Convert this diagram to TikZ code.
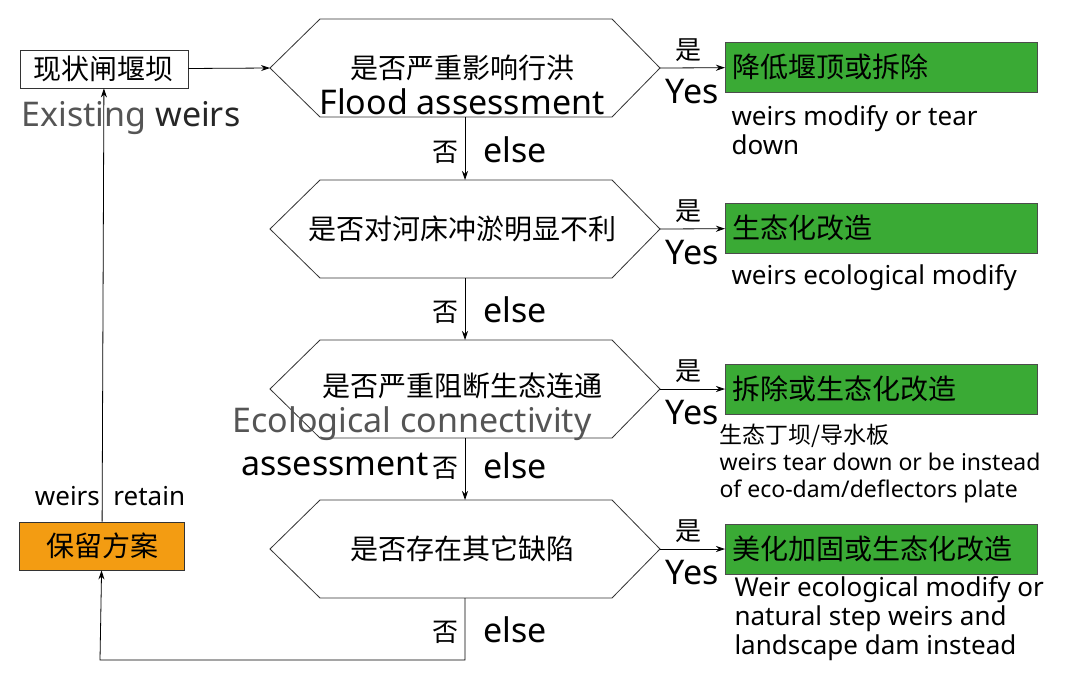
\documentclass[tikz,border=0pt]{standalone}
\usepackage{fontspec}
\setmainfont{Noto Sans}
\newfontfamily\cjk{Noto Sans CJK SC}
\usetikzlibrary{arrows.meta}
\definecolor{boxgreen}{HTML}{3AAA35}
\definecolor{boxorange}{HTML}{F39C12}
\definecolor{txtgray}{HTML}{555555}
\tikzset{
  box/.style={draw=black!80,line width=0.8pt,minimum height=38pt,inner sep=0pt,font=\cjk\fontsize{28}{28}\selectfont},
  res/.style={draw=black!70,fill=boxgreen,line width=0.8pt,minimum width=312pt,minimum height=50pt,
    text width=298pt,align=left,inner sep=0pt,font=\cjk\fontsize{28}{28}\selectfont},
  ques/.style={font=\cjk\fontsize{28}{28}\selectfont},
  yn/.style={font=\cjk\fontsize{26}{26}\selectfont},
  note/.style={anchor=north west,align=left,font=\fontsize{26}{29}\selectfont},
  big/.style={font=\fontsize{34}{34}\selectfont},
  flow/.style={line width=0.8pt,-{Stealth[length=9pt,width=6pt]}},
  hex/.style={draw=black!80,line width=0.8pt,fill=white}
}
\newcommand{\hexagon}[2]{% name, centre y
  \draw[hex] (270,#2) -- (320,#2-49) -- (612,#2-49) -- (660,#2) -- (612,#2+49) -- (320,#2+49) -- cycle;
  \coordinate (#1w) at (270,#2);
  \coordinate (#1e) at (660,#2);
  \coordinate (#1n) at (465,#2-49);
  \coordinate (#1s) at (465,#2+49);
}
\begin{document}
\begin{tikzpicture}[x=1pt,y=-1pt]
\useasboundingbox[fill=white] (0,0) rectangle (1080,675);
% start and end boxes
\node[box,minimum width=168pt] (cur) at (104,69) {现状闸堰坝};
\node[big,anchor=west] (curtxt) at (18,118) {\color{txtgray}Existing \color{black!85}weirs};
\node[box,fill=boxorange,minimum width=165pt,minimum height=48pt] (keep) at (102,546) {保留方案};
\node[font=\fontsize{26}{26}\selectfont] (keeptxt) at (110,496) {weirs\ \ retain};
% questions
\hexagon{qa}{68}
\hexagon{qb}{229}
\hexagon{qc}{389}
\hexagon{qd}{549}
\node[ques] (qat) at (462,68) {是否严重影响行洪};
\node[big] (qaen) at (462,102) {Flood assessment};
\node[ques] (qbt) at (462,229) {是否对河床冲淤明显不利};
\node[ques] (qct) at (462,386) {是否严重阻断生态连通};
\node[big,text=txtgray] (qcen) at (412,424) {Ecological connectivity};
\node[big] (qcen2) at (335,464) {assessment};
\node[ques] (qdt) at (462,549) {是否存在其它缺陷};
% results
\node[res,anchor=west] (ra) at (725,67) {降低堰顶或拆除};
\node[res,anchor=west] (rb) at (725,228) {生态化改造};
\node[res,anchor=west] (rc) at (725,389) {拆除或生态化改造};
\node[res,anchor=west] (rd) at (725,549) {美化加固或生态化改造};
\node[note] (na) at (728,102) {weirs modify or tear\\down};
\node[note] (nb) at (728,261) {weirs ecological modify};
\node[note,font=\fontsize{23}{27}\selectfont] (nc) at (716,421) {{\cjk 生态丁坝/导水板}\\weirs tear down or be instead\\of eco-dam/deflectors plate};
\node[note] (nd) at (731,573) {Weir ecological modify or\\natural step weirs and\\landscape dam instead};
% connectors
\draw[flow] (cur) -- (qaw);
\draw[flow] (qas) -- (qbn);
\draw[flow] (qbs) -- (qcn);
\draw[flow] (qcs) -- (qdn);
\draw[flow] (qds) |- (100,660) -- (keep);
\draw[flow] (keep) -- (cur);
\foreach \q/\r/\y in {qa/ra/68,qb/rb/229,qc/rc/389,qd/rd/549} {
  \draw[flow] (\q e) -- (\r);
  \node[yn] at (688,\y-18) {是};
  \node[big] at (692,\y+24) {Yes};
}
\foreach \y in {152,312,468,632} {
  \node[yn] at (445,\y) {否};
  \node[big] at (515,\y-2) {else};
}
\end{tikzpicture}
\end{document}
